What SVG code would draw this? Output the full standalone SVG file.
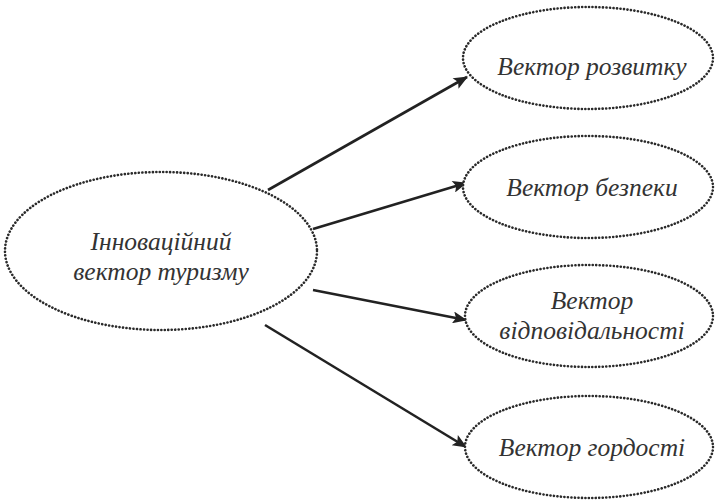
<svg xmlns="http://www.w3.org/2000/svg" width="715" height="503" viewBox="0 0 715 503">
<style>
.node ellipse{fill:#fff;stroke:#2a2a2a;stroke-width:2.6;stroke-dasharray:0.1 3.4;stroke-linecap:round}
.node text{font-family:"Liberation Serif","DejaVu Serif",serif;font-style:italic;font-size:25.5px;fill:#333;text-anchor:middle}
.edge{stroke:#222;stroke-width:2.6;fill:none;marker-end:url(#ah)}
</style>
<defs>
<marker id="ah" viewBox="0 0 12 10" refX="11" refY="5" markerWidth="6.5" markerHeight="4.6" markerUnits="strokeWidth" orient="auto">
<path d="M0,0 L12,5 L0,10 L2.5,5 z" fill="#222"/>
</marker>
</defs>
<rect width="715" height="503" fill="#fff"/>
<g id="connectors">
<line class="edge" x1="268" y1="190" x2="467" y2="77"/>
<line class="edge" x1="313" y1="229" x2="466" y2="183"/>
<line class="edge" x1="313" y1="290" x2="466" y2="320"/>
<line class="edge" x1="265" y1="325" x2="466" y2="447"/>
</g>
<g id="n0" class="node">
<ellipse cx="161" cy="251" rx="156" ry="79"/>
<text x="161" y="250">Інноваційний</text>
<text x="161" y="280">вектор туризму</text>
</g>
<g id="n1" class="node">
<ellipse cx="588" cy="58" rx="125" ry="51"/>
<text x="592" y="75">Вектор розвитку</text>
</g>
<g id="n2" class="node">
<ellipse cx="588" cy="187" rx="125" ry="51"/>
<text x="592" y="196">Вектор безпеки</text>
</g>
<g id="n3" class="node">
<ellipse cx="589" cy="316" rx="124" ry="51"/>
<text x="592" y="309">Вектор</text>
<text x="592" y="339">відповідальності</text>
</g>
<g id="n4" class="node">
<ellipse cx="589" cy="447" rx="124" ry="51"/>
<text x="592" y="456">Вектор гордості</text>
</g>
</svg>
